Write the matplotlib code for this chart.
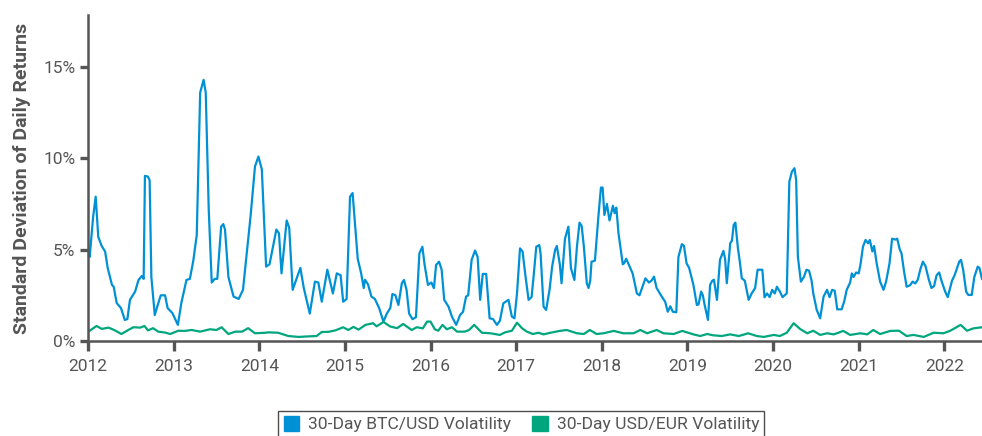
import matplotlib
matplotlib.use("Agg")
import matplotlib.pyplot as plt
from matplotlib.patches import Patch

plt.rcParams['font.family'] = ['Roboto', 'DejaVu Sans']

# 30-day BTC/USD volatility (decimal year, % std dev of daily returns)
btc_years = [
    2012.00, 2012.02, 2012.06, 2012.09, 2012.12, 2012.16, 2012.20, 2012.23, 2012.28, 2012.30,
    2012.335, 2012.385, 2012.43, 2012.46, 2012.49, 2012.55, 2012.59, 2012.63, 2012.65, 2012.665,
    2012.70, 2012.72, 2012.74, 2012.78, 2012.81, 2012.85, 2012.90, 2012.93, 2012.985, 2013.05,
    2013.09, 2013.15, 2013.19, 2013.23, 2013.27, 2013.31, 2013.35, 2013.375, 2013.41, 2013.445,
    2013.48, 2013.51, 2013.555, 2013.58, 2013.60, 2013.64, 2013.70, 2013.76, 2013.81, 2013.85,
    2013.90, 2013.95, 2013.99, 2014.03, 2014.08, 2014.12, 2014.20, 2014.23, 2014.26, 2014.32,
    2014.35, 2014.39, 2014.48, 2014.52, 2014.59, 2014.65, 2014.69, 2014.73, 2014.795, 2014.86,
    2014.905, 2014.95, 2014.98, 2015.02, 2015.06, 2015.09, 2015.12, 2015.15, 2015.19, 2015.22,
    2015.235, 2015.27, 2015.31, 2015.35, 2015.40, 2015.45, 2015.49, 2015.53, 2015.555, 2015.59,
    2015.625, 2015.665, 2015.69, 2015.72, 2015.75, 2015.79, 2015.83, 2015.87, 2015.905, 2015.93,
    2015.97, 2016.01, 2016.04, 2016.065, 2016.10, 2016.13, 2016.16, 2016.21, 2016.25, 2016.30,
    2016.345, 2016.38, 2016.415, 2016.44, 2016.48, 2016.52, 2016.55, 2016.58, 2016.61, 2016.65,
    2016.69, 2016.73, 2016.775, 2016.81, 2016.85, 2016.89, 2016.91, 2016.95, 2016.98, 2017.01,
    2017.045, 2017.075, 2017.105, 2017.145, 2017.18, 2017.20, 2017.235, 2017.27, 2017.285, 2017.32,
    2017.35, 2017.39, 2017.42, 2017.455, 2017.475, 2017.51, 2017.53, 2017.57, 2017.61, 2017.64,
    2017.68, 2017.71, 2017.74, 2017.765, 2017.79, 2017.825, 2017.845, 2017.865, 2017.88, 2017.92,
    2017.96, 2017.99, 2018.01, 2018.03, 2018.06, 2018.09, 2018.13, 2018.15, 2018.17, 2018.195,
    2018.245, 2018.26, 2018.285, 2018.36, 2018.41, 2018.44, 2018.51, 2018.55, 2018.58, 2018.61,
    2018.64, 2018.70, 2018.74, 2018.77, 2018.80, 2018.83, 2018.87, 2018.895, 2018.935, 2018.96,
    2018.99, 2019.02, 2019.07, 2019.11, 2019.13, 2019.16, 2019.18, 2019.20, 2019.24, 2019.265,
    2019.29, 2019.31, 2019.345, 2019.38, 2019.42, 2019.44, 2019.46, 2019.50, 2019.52, 2019.54,
    2019.56, 2019.59, 2019.61, 2019.635, 2019.67, 2019.715, 2019.75, 2019.79, 2019.82, 2019.85,
    2019.875, 2019.90, 2019.93, 2019.96, 2019.99, 2020.02, 2020.045, 2020.08, 2020.11, 2020.16,
    2020.19, 2020.22, 2020.25, 2020.27, 2020.29, 2020.325, 2020.36, 2020.39, 2020.42, 2020.45,
    2020.47, 2020.51, 2020.55, 2020.59, 2020.63, 2020.66, 2020.69, 2020.72, 2020.75, 2020.80,
    2020.83, 2020.86, 2020.90, 2020.92, 2020.94, 2020.97, 2021.00, 2021.02, 2021.05, 2021.08,
    2021.11, 2021.13, 2021.16, 2021.18, 2021.21, 2021.25, 2021.29, 2021.32, 2021.36, 2021.39,
    2021.43, 2021.45, 2021.48, 2021.50, 2021.53, 2021.56, 2021.60, 2021.63, 2021.66, 2021.69,
    2021.72, 2021.75, 2021.78, 2021.82, 2021.85, 2021.88, 2021.91, 2021.94, 2021.97, 2022.01,
    2022.04, 2022.07, 2022.09, 2022.12, 2022.155, 2022.175, 2022.195, 2022.22, 2022.255, 2022.28,
    2022.32, 2022.35, 2022.39, 2022.41, 2022.44,
]
btc_vol = [
    4.7, 4.6, 6.8, 7.9, 5.7, 5.2, 4.9, 4.0, 3.07, 2.97,
    2.08, 1.8, 1.15, 1.2, 2.25, 2.7, 3.34, 3.56, 3.4, 9.04,
    9.0, 8.8, 3.5, 1.42, 1.9, 2.5, 2.5, 1.8, 1.53, 0.88,
    2.08, 3.34, 3.4, 4.4, 5.8, 13.6, 14.3, 13.6, 7.2, 3.2,
    3.4, 3.4, 6.26, 6.4, 6.1, 3.5, 2.43, 2.3, 2.8, 4.6,
    6.9, 9.55, 10.1, 9.4, 4.07, 4.2, 6.1, 5.9, 3.7, 6.6,
    6.2, 2.8, 4.0, 2.9, 1.5, 3.25, 3.2, 2.15, 3.9, 2.6,
    3.7, 3.6, 2.15, 2.3, 7.9, 8.1, 6.3, 4.5, 3.7, 2.9,
    3.35, 3.1, 2.43, 2.3, 1.8, 1.06, 1.5, 1.8, 2.57, 2.5,
    1.97, 3.16, 3.34, 2.8, 1.5, 1.19, 1.3, 4.8, 5.16, 4.2,
    3.07, 3.2, 2.89, 4.16, 4.34, 3.9, 2.25, 1.88, 1.33, 0.88,
    1.42, 1.6, 2.43, 2.5, 4.44, 4.95, 4.6, 2.25, 3.67, 3.67,
    1.24, 1.2, 0.88, 1.1, 2.06, 2.19, 2.25, 1.33, 1.24, 2.6,
    5.07, 4.9, 3.7, 2.25, 2.4, 3.34, 5.16, 5.25, 4.8, 1.88,
    1.7, 2.8, 4.07, 4.98, 5.2, 4.2, 3.16, 5.6, 6.26, 3.98,
    3.34, 5.16, 6.48, 6.3, 5.2, 3.16, 2.9, 3.3, 4.34, 4.4,
    6.8, 8.4, 8.4, 6.9, 7.5, 6.6, 7.4, 7.0, 7.3, 5.9,
    4.2, 4.25, 4.5, 3.7, 2.6, 2.5, 3.43, 3.2, 3.3, 3.52,
    2.9, 2.43, 2.15, 1.6, 1.9, 1.6, 1.57, 4.6, 5.3, 5.2,
    4.25, 4.0, 3.07, 1.97, 2.0, 2.7, 2.5, 2.0, 1.15, 3.07,
    3.3, 3.35, 2.25, 4.44, 4.93, 4.5, 3.16, 5.35, 5.5, 6.35,
    6.48, 5.07, 4.4, 3.43, 3.3, 2.25, 2.6, 2.89, 3.9, 3.9,
    3.9, 2.39, 2.6, 2.4, 2.8, 2.6, 2.97, 2.7, 2.4, 2.6,
    8.72, 9.27, 9.46, 8.8, 4.6, 3.25, 3.5, 3.9, 3.85, 3.3,
    2.6, 1.7, 1.24, 2.43, 2.8, 2.4, 2.8, 2.75, 1.73, 1.73,
    2.15, 2.8, 3.2, 3.7, 3.5, 3.75, 3.7, 4.16, 5.16, 5.53,
    5.35, 5.53, 4.9, 5.2, 4.25, 3.25, 2.8, 3.25, 4.25, 5.6,
    5.55, 5.6, 5.0, 4.8, 3.8, 2.97, 3.05, 3.25, 3.15, 3.35,
    3.93, 4.34, 4.1, 3.34, 2.9, 3.0, 3.6, 3.75, 3.25, 2.7,
    2.4, 2.95, 3.3, 3.6, 4.07, 4.35, 4.44, 3.9, 2.7, 2.52,
    2.52, 3.5, 4.07, 4.0, 3.4,
]

# 30-day USD/EUR volatility
eur_years = [
    2012.00, 2012.02, 2012.10, 2012.16, 2012.24, 2012.315, 2012.39, 2012.47, 2012.53, 2012.61,
    2012.66, 2012.70, 2012.76, 2012.82, 2012.90, 2012.96, 2013.055, 2013.13, 2013.21, 2013.31,
    2013.425, 2013.50, 2013.56, 2013.64, 2013.72, 2013.80, 2013.87, 2013.95, 2014.07, 2014.11,
    2014.22, 2014.34, 2014.46, 2014.57, 2014.67, 2014.73, 2014.81, 2014.89, 2014.98, 2015.04,
    2015.10, 2015.16, 2015.24, 2015.33, 2015.37, 2015.45, 2015.53, 2015.61, 2015.68, 2015.78,
    2015.84, 2015.91, 2015.96, 2016.00, 2016.05, 2016.09, 2016.14, 2016.19, 2016.25, 2016.31,
    2016.40, 2016.45, 2016.51, 2016.55, 2016.60, 2016.70, 2016.81, 2016.87, 2016.95, 2017.01,
    2017.07, 2017.125, 2017.195, 2017.26, 2017.32, 2017.40, 2017.51, 2017.59, 2017.71, 2017.79,
    2017.86, 2017.94, 2018.02, 2018.14, 2018.25, 2018.37, 2018.45, 2018.53, 2018.64, 2018.72,
    2018.84, 2018.94, 2019.03, 2019.07, 2019.15, 2019.23, 2019.30, 2019.40, 2019.50, 2019.60,
    2019.71, 2019.81, 2019.89, 2020.01, 2020.08, 2020.16, 2020.24, 2020.32, 2020.40, 2020.47,
    2020.55, 2020.63, 2020.71, 2020.82, 2020.90, 2021.02, 2021.10, 2021.17, 2021.25, 2021.37,
    2021.47, 2021.56, 2021.64, 2021.76, 2021.875, 2021.99, 2022.07, 2022.19, 2022.265, 2022.34,
    2022.44,
]
eur_vol = [
    0.5, 0.56, 0.82, 0.66, 0.73, 0.58, 0.38, 0.6, 0.75, 0.73,
    0.82, 0.58, 0.7, 0.51, 0.46, 0.38, 0.56, 0.55, 0.6, 0.51,
    0.64, 0.6, 0.75, 0.38, 0.51, 0.51, 0.7, 0.42, 0.45, 0.47,
    0.45, 0.27, 0.22, 0.25, 0.27, 0.49, 0.5, 0.58, 0.75, 0.6,
    0.77, 0.62, 0.88, 0.97, 0.8, 1.04, 0.79, 0.7, 0.93, 0.6,
    0.75, 0.69, 1.06, 1.06, 0.64, 0.56, 0.88, 0.64, 0.75, 0.51,
    0.51, 0.6, 0.88, 0.69, 0.45, 0.42, 0.33, 0.47, 0.56, 1.0,
    0.69, 0.51, 0.38, 0.45, 0.36, 0.45, 0.55, 0.6, 0.42, 0.38,
    0.6, 0.38, 0.42, 0.55, 0.42, 0.42, 0.6, 0.42, 0.6, 0.42,
    0.38, 0.55, 0.42, 0.36, 0.27, 0.38, 0.31, 0.27, 0.36, 0.27,
    0.42, 0.27, 0.22, 0.33, 0.27, 0.45, 0.97, 0.64, 0.42, 0.56,
    0.33, 0.42, 0.36, 0.55, 0.33, 0.42, 0.36, 0.6, 0.38, 0.55,
    0.56, 0.27, 0.33, 0.22, 0.45, 0.42, 0.56, 0.88, 0.56, 0.69,
    0.75,
]

year_ticks = list(range(2012, 2023))
pct_ticks = [0, 5, 10, 15]

btc_color = '#0091d5'
eur_color = '#00a67e'
axis_color = '#555555'

fig = plt.figure(figsize=(9.82, 4.36), dpi=100)
ax = fig.add_axes([0.0896, 0.218, 0.9104, 0.7476])

ax.plot(btc_years, btc_vol, color=btc_color, lw=1.6, solid_joinstyle='round')
ax.plot(eur_years, eur_vol, color=eur_color, lw=1.6, solid_joinstyle='round')

ax.set_xlim(2012, 2022.44)
ax.set_ylim(0, 17.85)
ax.set_xticks(year_ticks)
ax.set_xticklabels([str(y) for y in year_ticks])
ax.set_yticks(pct_ticks)
ax.set_yticklabels([f'{p}%' for p in pct_ticks])

for side in ['top', 'right']:
    ax.spines[side].set_visible(False)
for side in ['left', 'bottom']:
    ax.spines[side].set_color(axis_color)
    ax.spines[side].set_linewidth(1.8)
ax.tick_params(axis='both', colors=axis_color, labelsize=12.5, width=2.4)
ax.tick_params(axis='x', length=7, pad=6)
ax.tick_params(axis='y', length=6, pad=3)

ax.set_ylabel('Standard Deviation of Daily Returns', fontsize=14, fontweight='bold',
              color=axis_color, labelpad=9)

handles = [Patch(color=btc_color, label='30-Day BTC/USD Volatility'),
           Patch(color=eur_color, label='30-Day USD/EUR Volatility')]
leg = fig.legend(handles=handles, loc='upper center', bbox_to_anchor=(0.531, 0.078),
                 ncol=2, fontsize=12.6, frameon=True, fancybox=False,
                 handlelength=0.9, handleheight=0.9, handletextpad=0.5, columnspacing=1.2,
                 borderpad=0.3)
leg.get_frame().set_edgecolor('#222222')
leg.get_frame().set_linewidth(1.0)
for t in leg.get_texts():
    t.set_color(axis_color)

fig.savefig('out.png', dpi=100)
